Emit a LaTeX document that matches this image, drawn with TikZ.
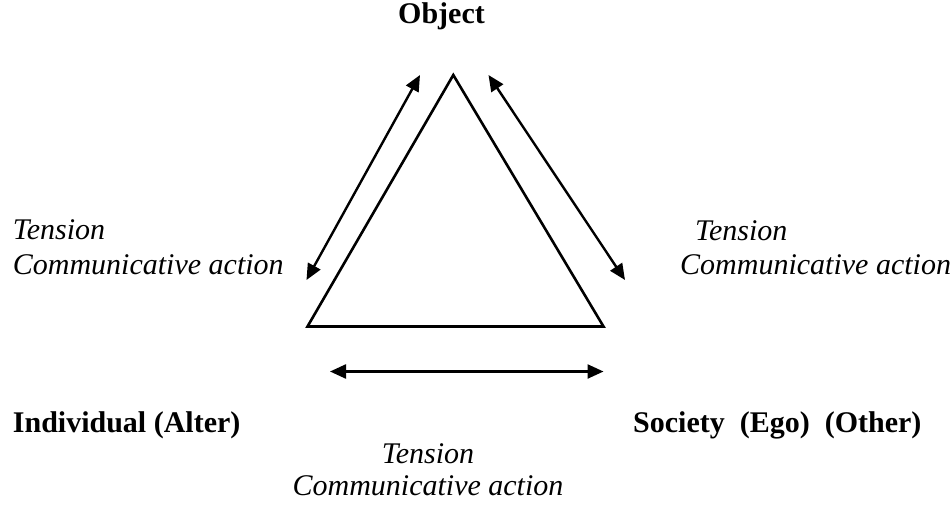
\documentclass[tikz,border=0pt]{standalone}
\usepackage{fontspec}
\setmainfont{Liberation Serif}
\usetikzlibrary{arrows.meta}
\begin{document}
\begin{tikzpicture}[x=1pt,y=-1pt,
  lbl/.style={inner sep=0pt,font=\fontsize{30}{36}\selectfont\itshape},
  ttl/.style={inner sep=0pt,font=\fontsize{30}{36}\selectfont\bfseries},
  tri/.style={line width=2.6pt,line join=miter},
  dbl/.style={line width=2.4pt,{Triangle[length=16pt,width=14pt]}-{Triangle[length=16pt,width=14pt]}}]
\useasboundingbox (0,0) rectangle (951,506);
% triangle corners
\coordinate (top) at (453.3,75);
\coordinate (bl) at (307.5,326.5);
\coordinate (br) at (603.5,326.5);
\draw[tri] (top) -- (bl) -- (br) -- cycle;
% arrow ends
\coordinate (la) at (420,75);
\coordinate (lb) at (306.5,280);
\coordinate (ra) at (488.5,75);
\coordinate (rb) at (625,280);
\coordinate (ba) at (330,371.5);
\coordinate (bb) at (603.5,371.5);
\draw[dbl] (la) -- (lb);
\draw[dbl] (ra) -- (rb);
\draw[dbl] (ba) -- (bb);
% labels
\node[ttl,anchor=base] (obj) at (441.5,23.5) {Object};
\node[lbl,anchor=base west] (lt) at (12.7,239) {Tension};
\node[lbl,anchor=base west] (lc) at (12.7,274) {Communicative action};
\node[lbl,anchor=base west] (rt) at (695,240) {Tension};
\node[lbl,anchor=base west] (rc) at (680,274) {Communicative action};
\node[ttl,anchor=base west] (ind) at (12.7,432.7) {Individual (Alter)};
\node[ttl,anchor=base west] (soc) at (633,432.7) {Society\ \ (Ego)\ \ (Other)};
\node[lbl,anchor=base] (bt) at (428,463) {Tension};
\node[lbl,anchor=base] (bc) at (428,495) {Communicative action};
\end{tikzpicture}
\end{document}
